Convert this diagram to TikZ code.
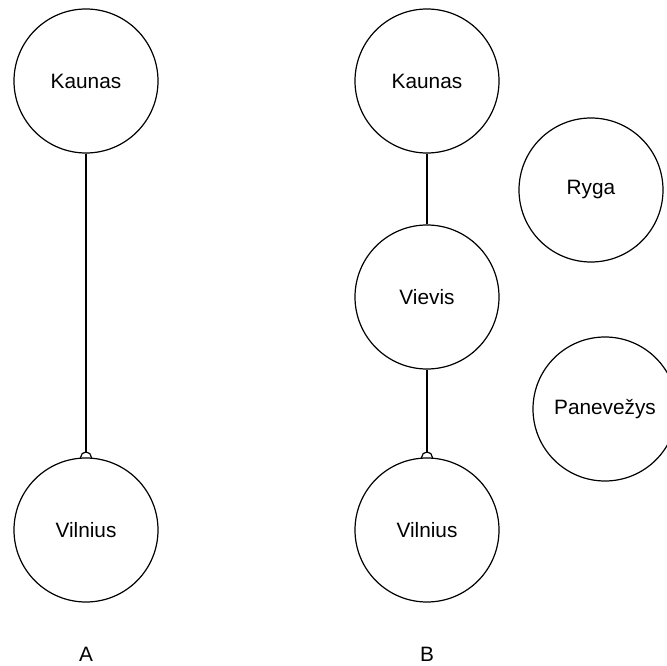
\documentclass[tikz,border=0pt]{standalone}
\usepackage{fontspec}
\setmainfont{Liberation Sans}
\usetikzlibrary{arrows.meta,backgrounds}
\begin{document}
\begin{tikzpicture}[x=0.75pt,y=-0.75pt,
  city/.style={circle,draw=black,line width=0.9pt,fill=white,minimum size=108pt,inner sep=0pt,font=\fontsize{15.6pt}{18pt}\selectfont},
  tag/.style={font=\fontsize{15.6pt}{18pt}\selectfont},
  link/.style={draw=black,line width=0.9pt},
  halfdot/.style={link,-{Circle[open,length=9pt,width=9pt,line width=0.9pt]},shorten >=-4.5pt}]
\useasboundingbox (0,0) rectangle (667,666);
\clip (0,0) rectangle (667,666);
% graph A
\node[city] (ka) at (86,81) {Kaunas};
\node[city] (va) at (86,530) {Vilnius};
\node[tag] (la) at (86,654) {A};
% graph B
\node[city] (kb) at (427,81) {Kaunas};
\node[city] (vv) at (427,297) {Vievis};
\node[city] (vb) at (427,530) {Vilnius};
\node[city] (ry) at (591,190) {Ryga};
\node[city] (pa) at (605,409) {Panevežys};
\node[tag] (lb) at (427,654) {B};
% connectors sit behind the filled circles
\begin{pgfonlayer}{background}
\draw[halfdot] (ka) -- (va);
\draw[link] (kb) -- (vv);
\draw[halfdot] (vv) -- (vb);
\end{pgfonlayer}
\end{tikzpicture}
\end{document}
